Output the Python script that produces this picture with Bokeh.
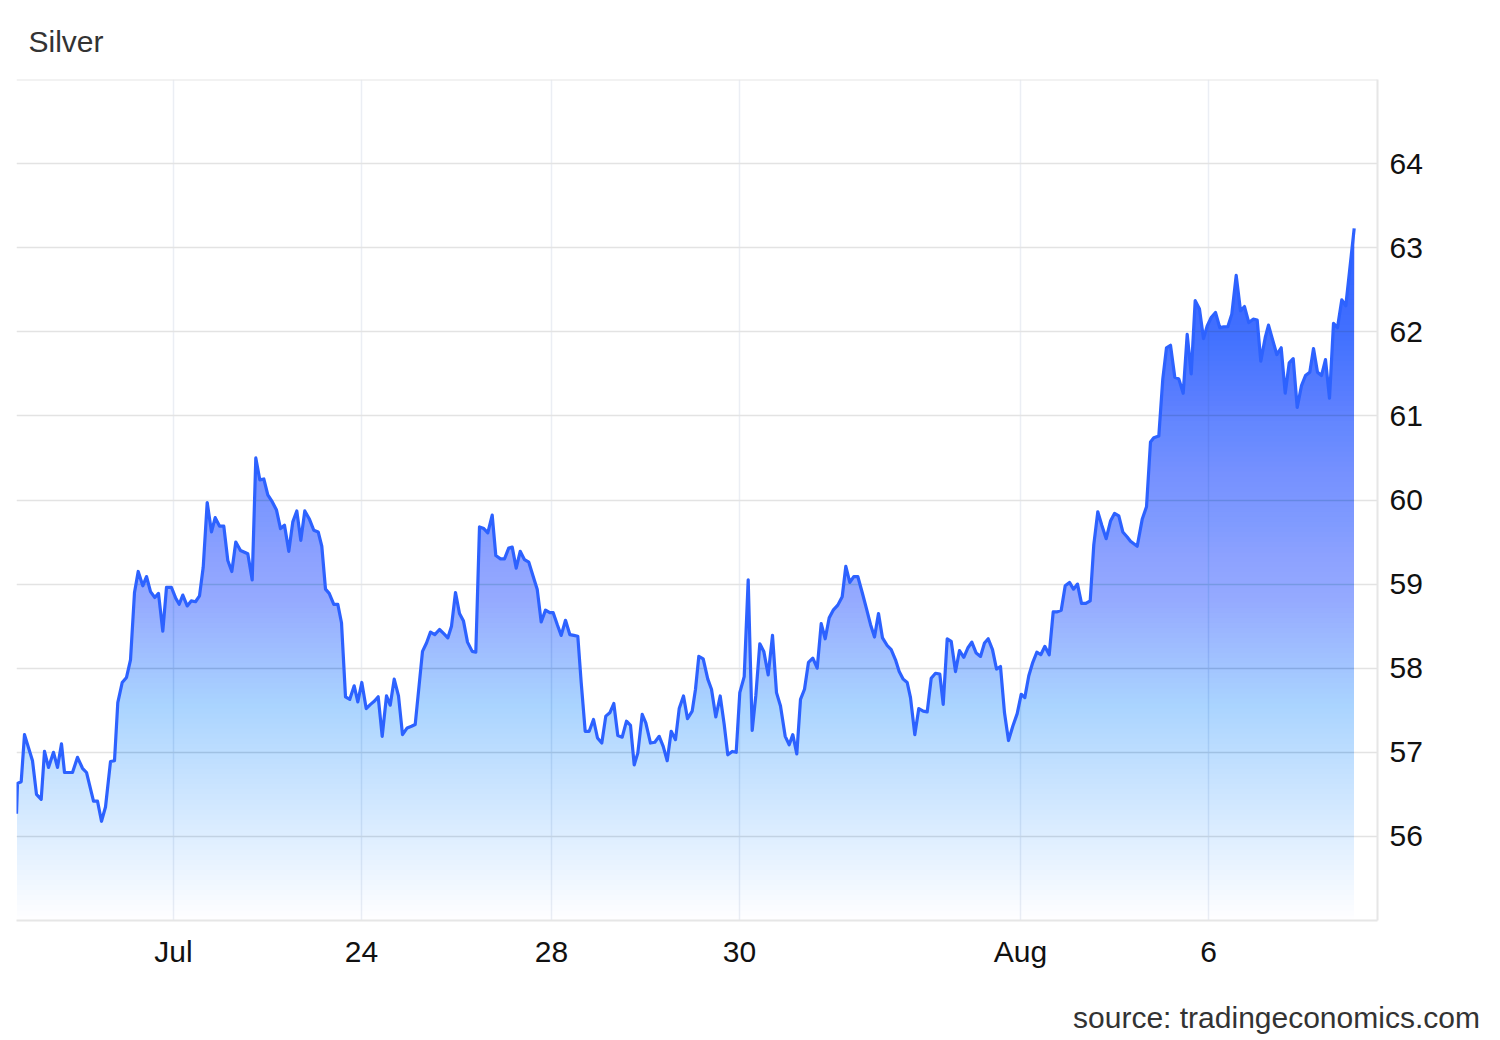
import numpy as np
from bokeh.plotting import figure
from bokeh.models import FixedTicker, Span, Range1d, LinearAxis
from bokeh.embed import file_html
from bokeh.resources import INLINE

# ---- data (time position, price) ----
t = [0, 1, 4.7, 8, 16, 20, 24.7, 28, 32, 37, 41, 45, 48, 56, 61, 66, 70, 77, 81, 85,
     89, 94, 98, 101.3, 105.7, 110, 114, 118, 121.7, 126.3, 130, 134, 138.3, 142, 146.3, 150,
     155, 159.3, 162.7, 166.3, 170.7, 174.7, 179, 183, 186.7, 190.7, 195, 198.7, 203, 207.3,
     211.3, 215.3, 219.3, 224, 231.3, 235.7, 239.3, 243.3, 247.3, 251.3, 255.7, 260, 264, 268,
     272.3, 276.3, 280.3, 284.3, 288.3, 293, 297.3, 301.7, 305.3, 309, 312.7, 317.3, 321.3, 325,
     329, 333.3, 337.7, 341.3, 345.3, 349.7, 354, 358, 361.7, 365.7, 370, 373.7, 377.7, 382,
     386, 390.7, 395, 398.7, 406, 410, 414, 418.3, 423, 427.3, 431.3, 435, 439, 443, 447, 451,
     455.7, 459.3, 463, 467.3, 471.3, 475.7, 479.3, 484, 488, 492.3, 495.7, 499.7, 503.7, 508,
     512.3, 516.7, 520.7, 524.7, 529, 533.3, 536.7, 541, 544.7, 549, 553.3, 557.3, 561.3, 564.7,
     568.7, 572.7, 577, 581, 585.3, 589.3, 593.3, 597.3, 601.3, 605.7, 610, 614, 617.7, 621.3,
     625.7, 629.3, 634, 638.3, 642.7, 646.7, 650.7, 654.7, 659, 662.7, 667, 671, 675.7, 679,
     682.3, 686.7, 691.3, 695, 699.3, 703.7, 707.7, 711.3, 715.7, 719.7, 723.3, 727.7, 731.7,
     735.7, 739.3, 743.3, 747.3, 751.7, 756, 760, 764, 768.7, 772.7, 776.3, 780.3, 784, 788,
     792, 796.3, 800.7, 804.7, 808.7, 812.7, 816.7, 821.3, 825.7, 829.3, 833.3, 837.3, 841.3,
     845.7, 849.7, 854, 858, 862, 866, 870.7, 874.7, 879, 882.7, 886.7, 890.7, 894, 898.3,
     902.3, 906.7, 910.7, 914.7, 919, 923.3, 926.7, 930.7, 934.7, 939, 943, 947.3, 951.3, 955.3,
     959.7, 964, 968, 971.7, 976, 980, 984, 988, 992, 996.3, 1000.7, 1004.7, 1008.3, 1012.3,
     1016.3, 1020.3, 1024.3, 1028.3, 1032.7, 1036.7, 1040.7, 1044.7, 1048.7, 1053, 1057, 1061,
     1065, 1069.3, 1073.7, 1077.3, 1081.3, 1085.3, 1089.7, 1094, 1098, 1102.3, 1106.3, 1110.7,
     1114, 1120.7, 1125.7, 1130, 1134, 1137.3, 1142.3, 1146.3, 1150, 1154, 1158.3, 1162.3,
     1166.7, 1170.7, 1174.7, 1178.7, 1183, 1187, 1190.7, 1194.7, 1199, 1203.3, 1207.3, 1211.3,
     1215.3, 1219.7, 1224, 1228, 1232.3, 1236.7, 1240.7, 1244.3, 1248.7, 1252, 1256, 1260.3,
     1264.7, 1268.7, 1272.7, 1276.7, 1280.7, 1285, 1289, 1293.3, 1297, 1301, 1305, 1309, 1313,
     1317, 1321, 1325.3, 1329.3, 1337.7]

price = [56.27, 56.63, 56.65, 57.21, 56.90, 56.50, 56.44, 57.01, 56.82, 57.00, 56.82, 57.10,
         56.76, 56.76, 56.94, 56.81, 56.76, 56.42, 56.42, 56.18, 56.35, 56.89, 56.90, 57.59,
         57.83, 57.89, 58.10, 58.90, 59.15, 58.98, 59.09, 58.91, 58.84, 58.89, 58.44, 58.96,
         58.96, 58.83, 58.76, 58.87, 58.74, 58.80, 58.79, 58.86, 59.20, 59.97, 59.62, 59.79,
         59.69, 59.69, 59.28, 59.15, 59.50, 59.40, 59.36, 59.05, 60.50, 60.24, 60.25, 60.06,
         59.98, 59.88, 59.66, 59.70, 59.39, 59.74, 59.87, 59.52, 59.87, 59.77, 59.64, 59.62,
         59.45, 58.94, 58.89, 58.76, 58.76, 58.54, 57.66, 57.63, 57.79, 57.60, 57.83, 57.52,
         57.57, 57.61, 57.66, 57.19, 57.67, 57.56, 57.87, 57.67, 57.21, 57.29, 57.31, 57.33,
         58.20, 58.30, 58.43, 58.40, 58.46, 58.41, 58.36, 58.50, 58.90, 58.65, 58.56, 58.31,
         58.20, 58.19, 59.68, 59.66, 59.61, 59.82, 59.34, 59.30, 59.30, 59.43, 59.44, 59.19,
         59.39, 59.29, 59.26, 59.09, 58.94, 58.55, 58.69, 58.66, 58.66, 58.51, 58.39, 58.57,
         58.40, 58.39, 58.38, 57.83, 57.25, 57.25, 57.39, 57.17, 57.11, 57.43, 57.47, 57.58,
         57.20, 57.18, 57.37, 57.32, 56.85, 56.99, 57.45, 57.35, 57.11, 57.12, 57.19, 57.07,
         56.90, 57.25, 57.15, 57.52, 57.67, 57.40, 57.49, 57.75, 58.14, 58.11, 57.87, 57.75,
         57.42, 57.67, 57.33, 56.97, 57.01, 57.00, 57.71, 57.90, 59.05, 57.26, 57.67, 58.29,
         58.20, 57.92, 58.39, 57.71, 57.55, 57.19, 57.09, 57.21, 56.98, 57.63, 57.75, 58.07,
         58.12, 58.00, 58.53, 58.35, 58.60, 58.69, 58.75, 58.85, 59.21, 59.02, 59.09, 59.09,
         58.90, 58.72, 58.52, 58.37, 58.65, 58.36, 58.27, 58.22, 58.10, 57.96, 57.87, 57.83,
         57.65, 57.21, 57.52, 57.49, 57.48, 57.88, 57.94, 57.93, 57.57, 58.35, 58.32, 57.96,
         58.21, 58.13, 58.24, 58.31, 58.18, 58.14, 58.30, 58.35, 58.22, 57.99, 58.02, 57.47,
         57.14, 57.31, 57.46, 57.69, 57.65, 57.91, 58.07, 58.19, 58.16, 58.26, 58.16, 58.67,
         58.67, 58.69, 58.98, 59.02, 58.94, 59.00, 58.77, 58.77, 58.80, 59.47, 59.86, 59.70,
         59.54, 59.75, 59.84, 59.81, 59.62, 59.56, 59.51, 59.45, 59.77, 59.92, 60.69, 60.74,
         60.76, 61.44, 61.81, 61.84, 61.46, 61.44, 61.27, 61.97, 61.50, 62.37, 62.27, 61.92,
         62.07, 62.17, 62.23, 62.05, 62.06, 62.06, 62.21, 62.67, 62.25, 62.30, 62.11, 62.15,
         62.14, 61.65, 61.93, 62.08, 61.91, 61.73, 61.81, 61.27, 61.63, 61.68, 61.10, 61.36,
         61.48, 61.52, 61.80, 61.52, 61.48, 61.67, 61.21, 62.10, 62.05, 62.38, 62.31, 63.23]

tick_t = [157, 345, 535, 723, 1004, 1192]
tick_labels = ["Jul", "24", "28", "30", "Aug", "6"]
y_ticks = [56, 57, 58, 59, 60, 61, 62, 63, 64]
source_text = "source: tradingeconomics.com"

LINE = "#2d62ff"
FONT = "Liberation Sans"

p = figure(width=1500, height=1040, x_range=Range1d(0, 1361), y_range=Range1d(55, 65),
           output_backend="svg", toolbar_location=None, y_axis_location="right",
           min_border_left=16, min_border_right=123, min_border_top=79, min_border_bottom=120)
p.outline_line_color = None
p.background_fill_color = "white"
p.border_fill_color = "white"

p.title.text = "Silver"
p.title.text_font = FONT
p.title.text_font_size = "30px"
p.title.text_font_style = "normal"
p.title.text_color = "#333333"
p.title.offset = 12
p.title.standoff = 43

# axes
p.xaxis.ticker = FixedTicker(ticks=tick_t)
p.xaxis.major_label_overrides = {k: v for k, v in zip(tick_t, tick_labels)}
p.yaxis.ticker = FixedTicker(ticks=y_ticks)
for ax in (p.xaxis, p.yaxis):
    ax.axis_line_color = "#e6e6e6"
    ax.axis_line_width = 2
    ax.major_tick_line_color = None
    ax.minor_tick_line_color = None
    ax.major_label_text_font = FONT
    ax.major_label_text_font_size = "30px"
    ax.major_label_text_color = "#111111"
p.xaxis.major_label_standoff = 8
p.yaxis.major_label_standoff = 6

p.xgrid.grid_line_color = "#ebeef4"
p.xgrid.grid_line_width = 1.5
p.ygrid.grid_line_color = "#e3e3e3"
p.ygrid.grid_line_width = 1.5

p.add_layout(Span(location=65, dimension="width", line_color="#e6e6e6", line_width=2))

# gradient area built from stacked translucent layers
tv = np.asarray(t, float)
pv = np.asarray(price, float)
base = 55.0
vmax = pv.max()
step = 0.06
A_top = 0.95


def band_outline(L):
    bx = [tv[0]]
    by = [max(pv[0], L)]
    for i in range(1, len(tv)):
        y0, y1 = pv[i - 1], pv[i]
        if (y0 - L) * (y1 - L) < 0:
            f = (L - y0) / (y1 - y0)
            bx.append(tv[i - 1] + f * (tv[i] - tv[i - 1]))
            by.append(L)
        bx.append(tv[i])
        by.append(max(y1, L))
    return bx, by


prev = 0.0
for L in np.arange(base, vmax, step):
    A = A_top * min(1.0, (L + step / 2 - base) / (vmax - base))
    a = 1 - (1 - A) / (1 - prev)
    prev = A
    bx, by = band_outline(L)
    p.varea(x=bx, y1=float(L), y2=by, fill_color=LINE, fill_alpha=max(a, 0.0))

p.line(tv, pv, line_color=LINE, line_width=3.2, line_join="round")

# source note: a bare second bottom axis carrying a single label
src_pos = 1260
src_axis = LinearAxis(ticker=FixedTicker(ticks=[src_pos]),
                      major_label_overrides={src_pos: source_text},
                      axis_line_color=None, major_tick_line_color=None,
                      minor_tick_line_color=None, major_label_standoff=24,
                      major_label_text_font=FONT, major_label_text_font_size="30px",
                      major_label_text_color="#333333")
p.add_layout(src_axis, "below")

open("out.html", "w").write(file_html(p, INLINE))
